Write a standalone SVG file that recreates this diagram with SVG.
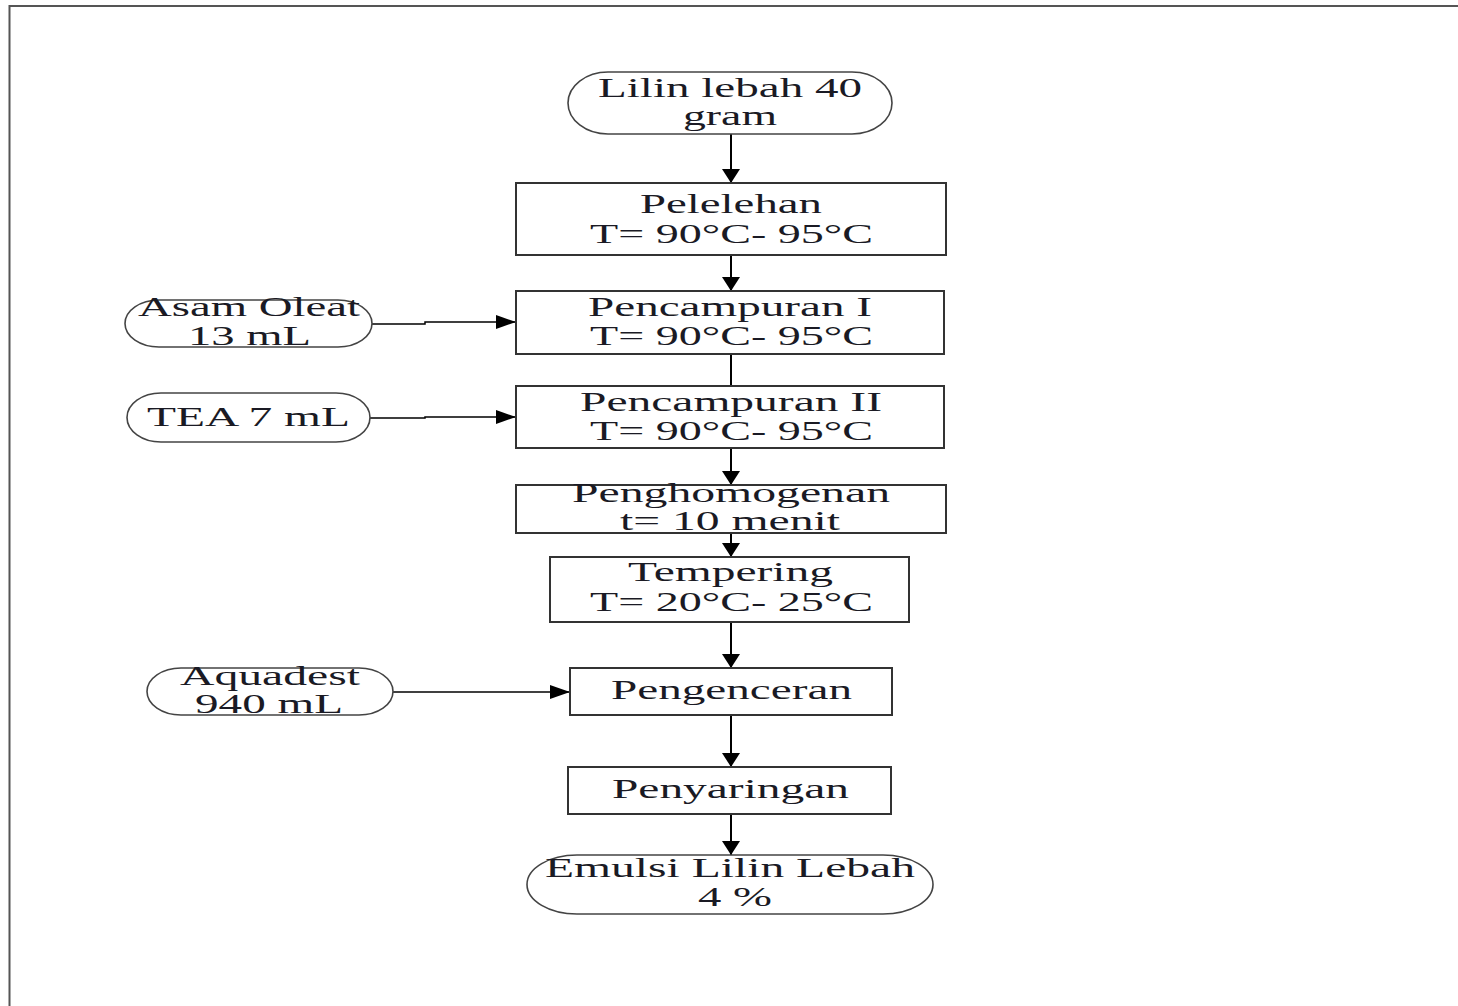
<svg xmlns="http://www.w3.org/2000/svg" width="1458" height="1006" viewBox="0 0 1458 1006">
<defs>
<marker id="ah" viewBox="0 0 14 18" refX="14" refY="9" markerWidth="14" markerHeight="18" markerUnits="userSpaceOnUse" orient="auto">
<path d="M0,0 L14,9 L0,18 Z" fill="#000"/>
</marker>
<marker id="ahs" viewBox="0 0 20 14" refX="20" refY="7" markerWidth="20" markerHeight="14" markerUnits="userSpaceOnUse" orient="auto">
<path d="M0,0 L20,7 L0,14 Z" fill="#000"/>
</marker>
<style>
.pill{fill:#fff;stroke:#444;stroke-width:1.6}
.box{fill:#fff;stroke:#333;stroke-width:2}
.t{font-family:"Liberation Serif","Times New Roman",serif;font-size:28px;fill:#1a1a24}
.c{fill:none;stroke:#000;stroke-width:2}
</style>
</defs>
<rect width="1458" height="1006" fill="#fff"/>
<path d="M9.5,1006 V6 H1458" fill="none" stroke="#555" stroke-width="2"/>

<g id="connectors">
<line class="c" x1="731" y1="134" x2="731" y2="183" marker-end="url(#ah)"/>
<line class="c" x1="731" y1="255" x2="731" y2="291" marker-end="url(#ah)"/>
<line class="c" x1="731" y1="354" x2="731" y2="386"/>
<line class="c" x1="731" y1="448" x2="731" y2="485" marker-end="url(#ah)"/>
<line class="c" x1="731" y1="533" x2="731" y2="557" marker-end="url(#ah)"/>
<line class="c" x1="731" y1="622" x2="731" y2="668" marker-end="url(#ah)"/>
<line class="c" x1="731" y1="715" x2="731" y2="767" marker-end="url(#ah)"/>
<line class="c" x1="731" y1="814" x2="731" y2="855" marker-end="url(#ah)"/>
<polyline class="c" style="stroke-width:1.5" points="372,324 425,324 425,322 516,322" marker-end="url(#ahs)"/>
<polyline class="c" style="stroke-width:1.5" points="370,418 425,418 425,417 516,417" marker-end="url(#ahs)"/>
<line class="c" style="stroke-width:1.5" x1="393" y1="692" x2="570" y2="692" marker-end="url(#ahs)"/>
</g>

<g id="n-lilin">
<rect class="pill" x="568" y="72" width="324" height="62" rx="40" ry="31"/>
<text class="t" x="598" y="97" textLength="264" lengthAdjust="spacingAndGlyphs">Lilin lebah 40</text>
<text class="t" x="683" y="125" textLength="94" lengthAdjust="spacingAndGlyphs">gram</text>
</g>

<g id="n-pelelehan">
<rect class="box" x="516" y="183" width="430" height="72"/>
<text class="t" x="640" y="213" textLength="182" lengthAdjust="spacingAndGlyphs">Pelelehan</text>
<text class="t" x="590" y="243" textLength="283" lengthAdjust="spacingAndGlyphs">T= 90°C- 95°C</text>
</g>

<g id="n-asam">
<rect class="pill" x="125" y="300" width="247" height="47" rx="34" ry="23.5"/>
<text class="t" x="138" y="316" textLength="222" lengthAdjust="spacingAndGlyphs">Asam Oleat</text>
<text class="t" x="188" y="345" textLength="123" lengthAdjust="spacingAndGlyphs">13 mL</text>
</g>

<g id="n-campur1">
<rect class="box" x="516" y="291" width="428" height="63"/>
<text class="t" x="588" y="316" textLength="284" lengthAdjust="spacingAndGlyphs">Pencampuran I</text>
<text class="t" x="590" y="345" textLength="283" lengthAdjust="spacingAndGlyphs">T= 90°C- 95°C</text>
</g>

<g id="n-tea">
<rect class="pill" x="127" y="393" width="243" height="49" rx="34" ry="24.5"/>
<text class="t" x="147" y="426" textLength="203" lengthAdjust="spacingAndGlyphs">TEA 7 mL</text>
</g>

<g id="n-campur2">
<rect class="box" x="516" y="386" width="428" height="62"/>
<text class="t" x="580" y="411" textLength="302" lengthAdjust="spacingAndGlyphs">Pencampuran II</text>
<text class="t" x="590" y="440" textLength="283" lengthAdjust="spacingAndGlyphs">T= 90°C- 95°C</text>
</g>

<g id="n-homogen">
<rect class="box" x="516" y="485" width="430" height="48"/>
<text class="t" x="572" y="502" textLength="318" lengthAdjust="spacingAndGlyphs">Penghomogenan</text>
<text class="t" x="620" y="530" textLength="220" lengthAdjust="spacingAndGlyphs">t= 10 menit</text>
</g>

<g id="n-tempering">
<rect class="box" x="550" y="557" width="359" height="65"/>
<text class="t" x="628" y="581" textLength="205" lengthAdjust="spacingAndGlyphs">Tempering</text>
<text class="t" x="590" y="611" textLength="283" lengthAdjust="spacingAndGlyphs">T= 20°C- 25°C</text>
</g>

<g id="n-aquadest">
<rect class="pill" x="147" y="668" width="246" height="47" rx="34" ry="23.5"/>
<text class="t" x="180" y="685" textLength="180" lengthAdjust="spacingAndGlyphs">Aquadest</text>
<text class="t" x="195" y="713" textLength="148" lengthAdjust="spacingAndGlyphs">940 mL</text>
</g>

<g id="n-pengenceran">
<rect class="box" x="570" y="668" width="322" height="47"/>
<text class="t" x="611" y="699" textLength="241" lengthAdjust="spacingAndGlyphs">Pengenceran</text>
</g>

<g id="n-penyaringan">
<rect class="box" x="568" y="767" width="323" height="47"/>
<text class="t" x="612" y="798" textLength="237" lengthAdjust="spacingAndGlyphs">Penyaringan</text>
</g>

<g id="n-emulsi">
<rect class="pill" x="527" y="855" width="406" height="59" rx="50" ry="29.5"/>
<text class="t" x="545" y="877" textLength="370" lengthAdjust="spacingAndGlyphs">Emulsi Lilin Lebah</text>
<text class="t" x="698" y="906" textLength="74" lengthAdjust="spacingAndGlyphs">4 %</text>
</g>
</svg>
